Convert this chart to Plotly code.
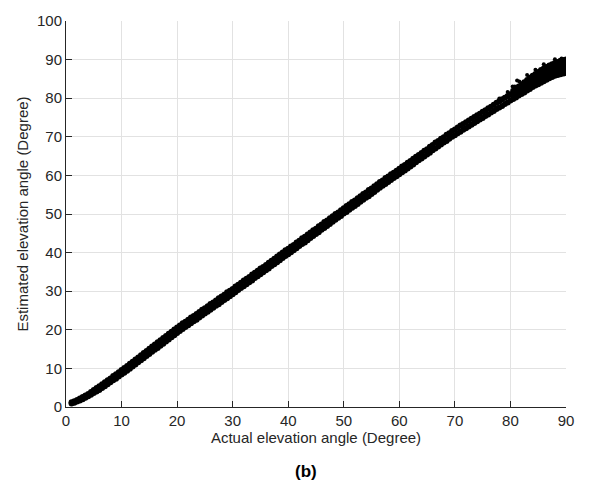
import numpy as np
import plotly.graph_objects as go

# Actual elevation angle samples (degrees), main band 1..80 every 0.5 deg
actual_main = np.arange(1.0, 80.01, 0.5)

# Lower and upper edge of the estimated-angle band over the main range
est_main_lo = [
    0.9, 1.1, 1.4, 1.7, 2.0, 2.4, 2.8, 3.2, 3.6, 4.0,
    4.4, 4.9, 5.4, 5.9, 6.4, 6.9, 7.3, 7.9, 8.4, 8.9,
    9.4, 9.9, 10.5, 11.0, 11.6, 12.1, 12.6, 13.2, 13.7, 14.3,
    14.8, 15.3, 15.9, 16.4, 17.0, 17.5, 18.1, 18.6, 19.2, 19.7,
    20.2, 20.7, 21.2, 21.7, 22.2, 22.6, 23.2, 23.7, 24.2, 24.7,
    25.2, 25.7, 26.2, 26.6, 27.2, 27.7, 28.2, 28.7, 29.2, 29.7,
    30.3, 30.8, 31.3, 31.8, 32.3, 32.8, 33.4, 33.9, 34.4, 34.9,
    35.4, 35.9, 36.5, 37.0, 37.5, 38.0, 38.6, 39.1, 39.6, 40.1,
    40.6, 41.1, 41.7, 42.2, 42.6, 43.2, 43.8, 44.3, 44.8, 45.3,
    45.9, 46.4, 46.9, 47.4, 48.0, 48.5, 49.0, 49.5, 50.1, 50.5,
    51.1, 51.6, 52.1, 52.6, 53.2, 53.7, 54.2, 54.6, 55.2, 55.7,
    56.3, 56.8, 57.3, 57.8, 58.3, 58.8, 59.3, 59.8, 60.3, 60.8,
    61.3, 61.8, 62.3, 62.8, 63.4, 63.9, 64.4, 64.9, 65.4, 65.9,
    66.5, 67.0, 67.5, 68.0, 68.5, 68.9, 69.5, 70.0, 70.4, 70.9,
    71.3, 71.8, 72.2, 72.7, 73.1, 73.6, 74.0, 74.5, 74.9, 75.4,
    75.8, 76.3, 76.7, 77.2, 77.6, 78.0, 78.5, 78.9, 79.4,
]
est_main_hi = [
    1.2, 1.5, 1.8, 2.2, 2.6, 3.0, 3.4, 3.9, 4.4, 4.9,
    5.4, 5.9, 6.4, 6.9, 7.4, 8.0, 8.5, 9.0, 9.6, 10.1,
    10.6, 11.2, 11.7, 12.3, 12.8, 13.4, 14.0, 14.5, 15.1, 15.7,
    16.2, 16.8, 17.3, 17.9, 18.4, 19.0, 19.5, 20.1, 20.6, 21.1,
    21.7, 22.1, 22.6, 23.2, 23.6, 24.1, 24.6, 25.2, 25.6, 26.1,
    26.7, 27.1, 27.6, 28.2, 28.6, 29.1, 29.7, 30.1, 30.6, 31.2,
    31.7, 32.2, 32.8, 33.2, 33.7, 34.3, 34.8, 35.3, 35.9, 36.3,
    36.8, 37.4, 37.9, 38.4, 39.0, 39.5, 40.0, 40.6, 41.0, 41.6,
    42.0, 42.6, 43.1, 43.7, 44.1, 44.7, 45.2, 45.8, 46.2, 46.8,
    47.3, 47.9, 48.3, 48.9, 49.4, 50.0, 50.4, 51.0, 51.5, 52.1,
    52.5, 53.1, 53.5, 54.1, 54.6, 55.2, 55.6, 56.2, 56.6, 57.2,
    57.7, 58.3, 58.7, 59.3, 59.7, 60.3, 60.7, 61.2, 61.7, 62.3,
    62.7, 63.3, 63.7, 64.3, 64.8, 65.3, 65.8, 66.4, 66.8, 67.4,
    67.9, 68.5, 68.9, 69.5, 69.9, 70.5, 70.9, 71.5, 71.9, 72.4,
    72.9, 73.3, 73.8, 74.2, 74.7, 75.1, 75.6, 76.0, 76.5, 76.9,
    77.4, 77.8, 78.3, 78.8, 79.2, 79.7, 80.1, 80.6, 81.0,
]

# High-elevation range 80.5..90 deg, where the estimates spread out
actual_high = np.arange(80.5, 90.01, 0.5)
est_high_a = [79.8, 80.2, 80.7, 81.1, 81.5, 82.0, 82.4, 82.9, 83.3, 83.6,
              84.0, 84.4, 84.8, 85.2, 85.5, 85.8, 86.0, 86.2, 86.4, 86.5]
est_high_b = [80.5, 81.0, 81.5, 82.0, 82.4, 82.9, 83.4, 83.9, 84.3, 84.7,
              85.1, 85.5, 85.9, 86.3, 86.6, 86.9, 87.1, 87.4, 87.6, 87.7]
est_high_c = [81.2, 81.7, 82.2, 82.7, 83.2, 83.8, 84.3, 84.8, 85.3, 85.7,
              86.2, 86.6, 87.0, 87.4, 87.7, 88.0, 88.2, 88.5, 88.7, 88.8]
est_high_d = [81.9, 82.5, 83.0, 83.6, 84.1, 84.7, 85.3, 85.8, 86.3, 86.8,
              87.3, 87.7, 88.1, 88.5, 88.8, 89.1, 89.4, 89.7, 89.9, 90.0]

# Isolated outlying estimates above the band
actual_out = [78.0, 79.5, 80.4, 80.8, 81.2, 81.6, 83.0, 84.5, 86.0, 88.0, 89.2]
est_out = [79.9, 81.6, 83.0, 83.0, 84.6, 84.3, 86.0, 87.4, 88.8, 90.1, 90.3]

xs = list(actual_main) * 2
ys = est_main_lo + est_main_hi
for row in (est_high_a, est_high_b, est_high_c, est_high_d):
    xs += list(actual_high)
    ys += row

INK = "#262626"
FONT = "Liberation Sans, Arial, sans-serif"

fig = go.Figure()
fig.add_trace(go.Scatter(
    x=xs, y=ys, mode="markers",
    marker=dict(color="black", size=6, line=dict(width=0)),
    showlegend=False, hoverinfo="skip",
))
fig.add_trace(go.Scatter(
    x=actual_out, y=est_out, mode="markers",
    marker=dict(color="black", size=4, line=dict(width=0)),
    showlegend=False, hoverinfo="skip",
))

axis_common = dict(
    showline=True, linecolor=INK, linewidth=1,
    showgrid=True, gridcolor="#e2e2e2", gridwidth=1,
    ticks="inside", ticklen=6, tickcolor=INK, tickwidth=1,
    tickfont=dict(family=FONT, size=15, color=INK),
    zeroline=False, mirror=False, dtick=10, tick0=0,
)

fig.update_layout(
    width=590, height=485,
    margin=dict(l=66, r=24, t=15, b=78),
    paper_bgcolor="white", plot_bgcolor="white",
    xaxis=dict(
        range=[0, 90], **axis_common,
        title=dict(text="Actual elevation angle (Degree)",
                   font=dict(family=FONT, size=15, color=INK), standoff=4),
    ),
    yaxis=dict(
        range=[0, 100], **axis_common,
        title=dict(text="Estimated elevation angle (Degree)",
                   font=dict(family=FONT, size=15, color=INK), standoff=4),
    ),
    annotations=[dict(
        text="<b>(b)</b>", xref="paper", yref="paper",
        x=0.48, y=-0.168, xanchor="center", yanchor="middle",
        showarrow=False, font=dict(family=FONT, size=17, color="black"),
    )],
)

fig.write_html("out.html")
